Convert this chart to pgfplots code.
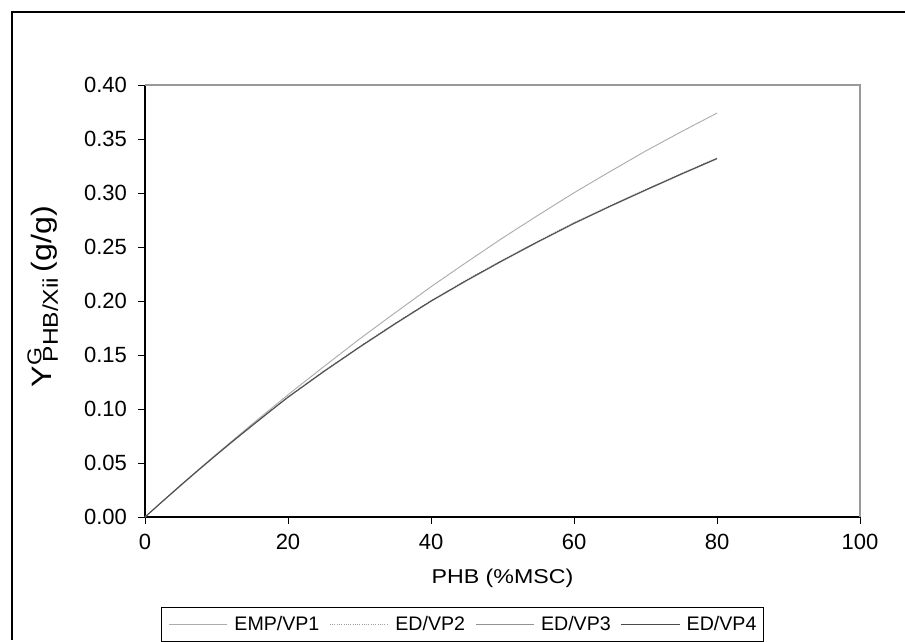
\documentclass[border=0pt]{standalone}
\usepackage{pgfplots}
\pgfplotsset{compat=1.18}
\usepackage{fontspec}
\setmainfont{Liberation Sans}
\begin{document}
\begin{tikzpicture}[x=0.75pt,y=0.75pt]
\begin{axis}[
  at={(0,0)}, anchor=origin,
  scale only axis,
  width=536.25pt, height=324pt,
  xmin=0, xmax=100, ymin=0, ymax=0.40,
  xtick={0,20,40,60,80,100},
  ytick={0,0.05,0.10,0.15,0.20,0.25,0.30,0.35,0.40},
  yticklabel style={/pgf/number format/fixed, /pgf/number format/fixed zerofill, /pgf/number format/precision=2, xshift=-5pt},
  /pgf/number format/assume math mode=true,
  axis lines*=left,
  axis line style={black, line width=0.8pt, -},
  tick align=outside,
  major tick length=5pt,
  tick style={black, line width=0.6pt},
  ticklabel style={font=\fontsize{16.5}{19}\selectfont},
  xticklabel style={yshift=-4pt},
  xlabel={\scalebox{1.16}[1]{PHB (\%MSC)}},
  xlabel style={font=\fontsize{15}{18}\selectfont, at={(axis description cs:0.5,0)}, anchor=center, yshift=-46pt},
  ylabel={\scalebox{1.15}[1]{\fontsize{21}{24}\selectfont Y\textsuperscript{\fontsize{15}{17}\selectfont G}\kern-10pt\raisebox{-5pt}{\fontsize{16}{18}\selectfont PHB/Xii}\,(g/g)}},
  ylabel style={at={(axis description cs:-0.143,0.51)}, anchor=center},
  legend style={at={(axis description cs:0.444,-0.2083)}, anchor=north, legend columns=4, draw=black, line width=0.6pt,
     font=\fontsize{14.7}{17}\selectfont, inner xsep=5.5pt, inner ysep=6.5pt, row sep=0pt,
     nodes={inner sep=0pt},
     /tikz/every odd column/.append style={column sep=5pt},
     /tikz/every even column/.append style={column sep=7.5pt}},
  legend cell align=left,
  legend image code/.code={\draw[#1, line width=0.8pt] (0cm,0cm) -- (1.535cm,0cm);},
  clip=false,
]
\addplot[gray!65, line width=0.7pt] coordinates {
(0,0) (2.5,0.0148) (5,0.0296) (7.5,0.0439) (10,0.0582) (12.5,0.0722) (15,0.0862) (17.5,0.0996) (20,0.1132)
(25,0.1392) (30,0.1648) (35,0.1892) (40,0.2132) (45,0.2360) (50,0.2583) (55,0.2795) (60,0.3002)
(65,0.3197) (70,0.3388) (75,0.3567) (80,0.3740)};
\addlegendentry{EMP/VP1}
\addplot[gray!75, line width=0.7pt, densely dotted] coordinates {
(0,0) (2.5,0.0150) (5,0.0297) (7.5,0.0440) (10,0.0580) (12.5,0.0717) (15,0.0852) (17.5,0.0983) (20,0.1114)
(25,0.1352) (30,0.1578) (35,0.1796) (40,0.2004) (45,0.2197) (50,0.2380) (55,0.2556) (60,0.2725)
(65,0.2882) (70,0.3033) (75,0.3181) (80,0.3325)};
\addlegendentry{ED/VP2}
\addplot[gray!85, line width=0.7pt] coordinates {
(0,0) (2.5,0.0146) (5,0.0291) (7.5,0.0434) (10,0.0574) (12.5,0.0711) (15,0.0845) (17.5,0.0977) (20,0.1107)
(25,0.1344) (30,0.1570) (35,0.1787) (40,0.1996) (45,0.2188) (50,0.2371) (55,0.2547) (60,0.2716)
(65,0.2873) (70,0.3024) (75,0.3172) (80,0.3316)};
\addlegendentry{ED/VP3}
\addplot[black!70, line width=0.7pt] coordinates {
(0,0) (2.5,0.0148) (5,0.0294) (7.5,0.0437) (10,0.0577) (12.5,0.0714) (15,0.0848) (17.5,0.0980) (20,0.1110)
(25,0.1348) (30,0.1574) (35,0.1791) (40,0.2000) (45,0.2192) (50,0.2375) (55,0.2551) (60,0.2720)
(65,0.2877) (70,0.3028) (75,0.3176) (80,0.3320)};
\addlegendentry{ED/VP4}
\draw[gray!80, line width=0.9pt] (rel axis cs:0,1) -- (rel axis cs:1,1) -- (rel axis cs:1,0);
\end{axis}
\path[use as bounding box] (-145,-123) rectangle (760,517);
\draw[black, line width=1pt] (-133,-123) -- (-133,505) -- (760,505);
\end{tikzpicture}
\end{document}
